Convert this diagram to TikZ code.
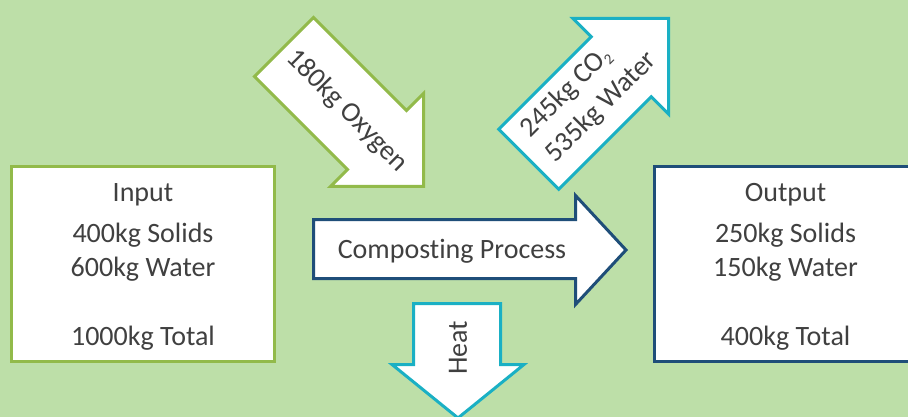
\documentclass[tikz,border=0pt]{standalone}
\usepackage{fontspec}
\setmainfont{Carlito}[Ligatures={NoCommon}]
\usetikzlibrary{positioning}

\definecolor{bgGreen}{HTML}{BDDFA8}
\definecolor{inGreen}{HTML}{92BA4A}
\definecolor{outBlue}{HTML}{1F4E79}
\definecolor{gasCyan}{HTML}{1AB0C4}
\definecolor{txtGray}{HTML}{404040}

\newcommand{\subtwo}{\raisebox{-4pt}{\fontsize{15}{15}\selectfont 2}}
\newcommand{\topgap}{\rule{0pt}{23.6pt}}

\begin{document}
\begin{tikzpicture}[
    x=1pt, y=-1pt,
    font=\fontsize{28}{34.2}\selectfont,
    text=txtGray,
    text centered,
    line join=miter,
    every massbox/.style={
      rectangle,
      fill=white,
      line width=3pt,
      minimum width=263pt,
      minimum height=195pt,
      inner sep=0,
      align=center
    },
    massbox/.style={every massbox,draw=#1},
    blockarrow/.style={draw=#1, fill=white, line width=3pt},
    arrowtext/.style={inner sep=0}
  ]

  \fill [bgGreen] (0,0) rectangle (908,417);
  \useasboundingbox (0,0) rectangle (908,417);

  % mass in and out
  \node [massbox=inGreen] (input) at (143,264) {\topgap Input\\[6.8pt]400kg Solids\\600kg Water\\[34.2pt]1000kg Total};
  \node [massbox=outBlue] (output) at (785.5,264) {\topgap Output\\[6.8pt]250kg Solids\\150kg Water\\[34.2pt]400kg Total};

  % oxygen going in
  \draw [blockarrow=inGreen] (254.5,76.5) -- (313.5,17.5) -- (406.5,110.5) -- (423.5,93.5)
    -- (423.5,186.5) -- (330.5,186.5) -- (347.5,169.5) -- cycle;
  \node [arrowtext, rotate=-45] (oxygen) at (347,111) {180kg Oxygen};

  % gases going out
  \draw [blockarrow=gasCyan] (558.75,189.25) -- (498.75,129.25) -- (591.25,36.75) -- (573,18.5)
    -- (668.5,18.5) -- (668.5,114) -- (651.25,96.75) -- cycle;
  \node [arrowtext, rotate=45, align=left] (gases) at (589,95) {245kg CO\subtwo\\[1.2pt]535kg Water};

  % the process itself
  \draw [blockarrow=outBlue] (313.5,219.5) -- (575.5,219.5) -- (575.5,195.5) -- (626,250)
    -- (575.5,304.5) -- (575.5,278.5) -- (313.5,278.5) -- cycle;
  \node [arrowtext] (process) at (452,251) {Composting Process};

  % heat given off
  \draw [blockarrow=gasCyan] (413.5,303.5) -- (500.5,303.5) -- (500.5,364.5) -- (524,364.5)
    -- (458,418) -- (392,364.5) -- (413.5,364.5) -- cycle;
  \node [arrowtext, rotate=90] (heat) at (458,348) {Heat};

\end{tikzpicture}
\end{document}
